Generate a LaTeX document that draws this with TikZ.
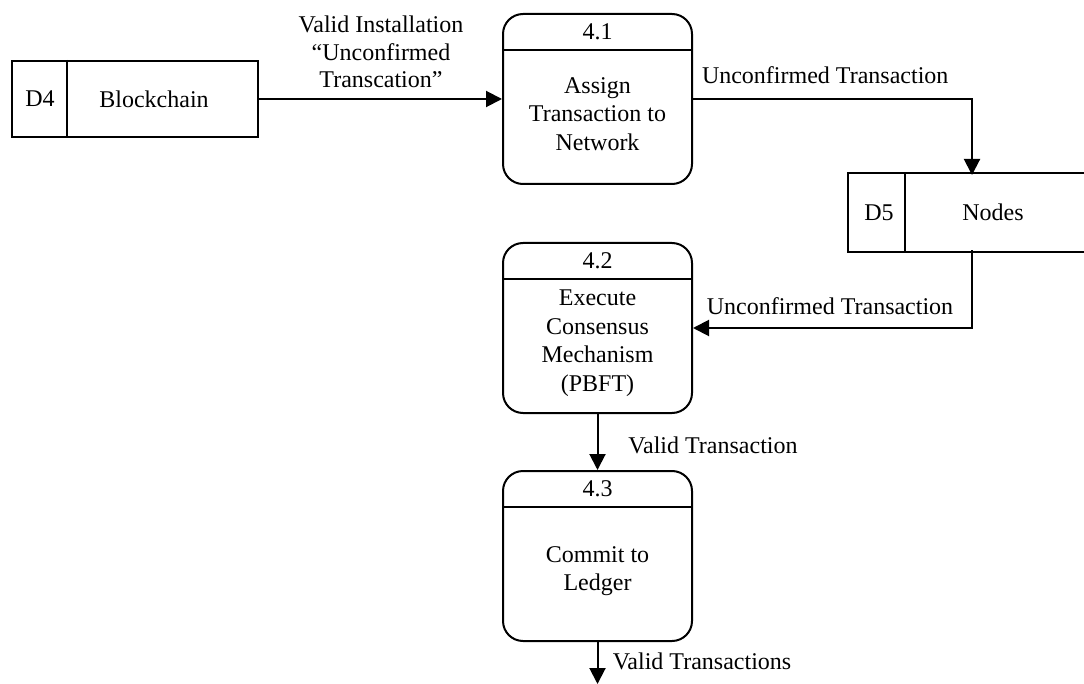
\documentclass[tikz,border=0pt]{standalone}
\usepackage{fontspec}
\setmainfont{Liberation Serif}
\usetikzlibrary{arrows.meta}
\begin{document}
\begin{tikzpicture}[x=0.75pt,y=-0.75pt,line width=1.5pt,
  font=\fontsize{18}{21.4}\selectfont,
  proc/.style={draw,rounded corners=15pt,minimum width=141.75pt,minimum height=127.5pt,inner sep=0pt},
  store/.style={inner sep=0pt,minimum height=57pt},
  txt/.style={align=center,inner sep=0pt},
  arr/.style={-{Triangle[length=12pt,width=12pt]}}]
\useasboundingbox (0,0) rectangle (1084,684);
% processes
\node[proc] (p1) at (597.5,99) {};
\node[proc] (p2) at (597.5,328) {};
\node[proc] (p3) at (597.5,556) {};
\foreach \p/\n in {p1/4.1,p2/4.2,p3/4.3}{
  \draw ([yshift=-27.5pt]\p.north west) -- ([yshift=-27.5pt]\p.north east);
  \node[txt] (\p num) at ([yshift=-14pt]\p.north) {\n};
}
\node[txt] (p1t) at (597.5,114) {Assign\\Transaction to\\Network};
\node[txt] (p2t) at (597.5,343) {Execute\\Consensus\\Mechanism\\(PBFT)};
\node[txt] (p3t) at (597.5,571) {Commit to\\Ledger};
% stores
\node[store,draw,minimum width=184.5pt] (d4) at (135,99) {};
\draw ([xshift=42pt]d4.north west) -- ([xshift=42pt]d4.south west);
\node[txt] (d4a) at (40,99) {D4};
\node[txt] (d4b) at (154,99) {Blockchain};
\node[store,minimum width=176.25pt] (d5) at (966.5,212.5) {};
\draw (d5.north east) -- (d5.north west) -- (d5.south west) -- (d5.south east);
\draw ([xshift=42.75pt]d5.north west) -- ([xshift=42.75pt]d5.south west);
\node[txt] (d5a) at (879,212.5) {D5};
\node[txt] (d5b) at (993,212.5) {Nodes};
% connectors
\coordinate (c5) at (972,175);
\coordinate (c6) at (972,250);
\coordinate (cend) at (597.5,684);
\draw[arr] (d4.east) -- (p1.west |- d4.east);
\draw[arr] (p1.east) -| (c5);
\draw[arr] (c6) |- (p2.east);
\draw[arr] (p2.south) -- (p3.north);
\draw[arr] (p3.south) -- (cend);
% labels
\node[txt,font=\fontsize{18}{20.6}\selectfont] (l1) at (381,52) {Valid Installation\\“Unconfirmed\\Transcation”};
\node[txt,anchor=west] (l2) at (701,75) {Unconfirmed Transaction};
\node[txt] (l3) at (830,306) {Unconfirmed Transaction};
\node[txt] (l4) at (713,445) {Valid Transaction};
\node[txt] (l5) at (702,661) {Valid Transactions};
\end{tikzpicture}
\end{document}
